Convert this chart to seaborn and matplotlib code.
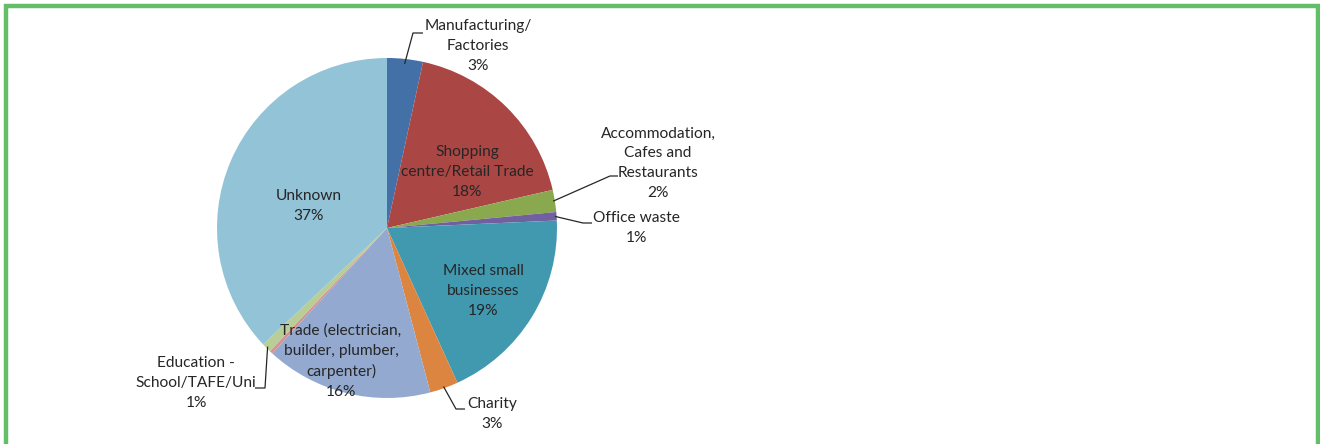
import matplotlib
matplotlib.use("Agg")
import matplotlib.pyplot as plt
import seaborn as sns
import numpy as np
from matplotlib.patches import Rectangle

# Waste sources by business sector (% of total)
categories = [
    "Manufacturing/\nFactories",
    "Shopping\ncentre/Retail Trade",
    "Accommodation,\nCafes and\nRestaurants",
    "Office waste",
    "Mixed small\nbusinesses",
    "Charity",
    "Trade (electrician,\nbuilder, plumber,\ncarpenter)",
    "Other",
    "Education -\nSchool/TAFE/Uni",
    "Unknown",
]
shares = [3.4, 18.0, 2.1, 0.8, 18.9, 2.7, 15.9, 0.3, 0.9, 37.0]
show_label = [True, True, True, True, True, True, True, False, True, True]

colors = sns.color_palette([
    "#4470A8", "#AA4644", "#8AA84E", "#7160A0", "#4199B0",
    "#DB8540", "#93A9CF", "#D49292", "#B9CD96", "#93C3D6",
])

sns.set_theme(style="white")
plt.rcParams["font.family"] = ["Lato", "DejaVu Sans"]

W, H = 1320, 444
fig = plt.figure(figsize=(W / 100, H / 100), dpi=100)
ax = fig.add_axes([0, 0, 1, 1])

cx, cy, r = 387, H - 228, 170
wedges, _ = ax.pie(shares, colors=colors, startangle=90, counterclock=False,
                   radius=r, center=(cx, cy),
                   wedgeprops=dict(linewidth=0))
ax.set_xlim(0, W)
ax.set_ylim(0, H)
ax.set_aspect("equal")
ax.axis("off")

# label layout: (mode, text centre x, text centre y [top-down px], leader-line elbow)
layout = {
    0: ("out", 478, 46, [(413, 33), (423, 33)], 0.97),
    1: ("in", 467, 172, None, None),
    2: ("out", 658, 163, [(610, 176), (618, 176)], 0.99),
    3: ("out", 636, 228, [(583, 223), (592, 223)], 0.99),
    4: ("in", 483, 291, None, None),
    5: ("out", 492, 414, [(456, 409), (465, 409)], 0.99),
    6: ("in", 341, 361, None, None),
    8: ("out", 196, 383, [(265, 388), (255, 388)], 0.99),
    9: ("in", 309, 206, None, None),
}

fs = 11.2
for i, (w, name, val) in enumerate(zip(wedges, categories, shares)):
    if not show_label[i]:
        continue
    mode, tx, ty, elbow, rf = layout[i]
    text = f"{name}\n{val:.0f}%"
    ax.text(tx, H - ty, text, ha="center", va="center", fontsize=fs,
            color="#262626", linespacing=1.52)
    if mode == "out":
        mid = np.deg2rad((w.theta1 + w.theta2) / 2)
        ax0 = cx + r * rf * np.cos(mid)
        ay0 = cy + r * rf * np.sin(mid)
        xs = [ax0] + [p[0] for p in elbow]
        ys = [ay0] + [H - p[1] for p in elbow]
        ax.plot(xs, ys, color="#262626", linewidth=0.9, solid_capstyle="butt")

# green frame around the chart area
frame = Rectangle((5.5, -10), 1312, H - 6.5 + 10, fill=False,
                  edgecolor="#62BF67", linewidth=3.2, clip_on=False)
ax.add_patch(frame)

fig.savefig("out.png", dpi=100)
